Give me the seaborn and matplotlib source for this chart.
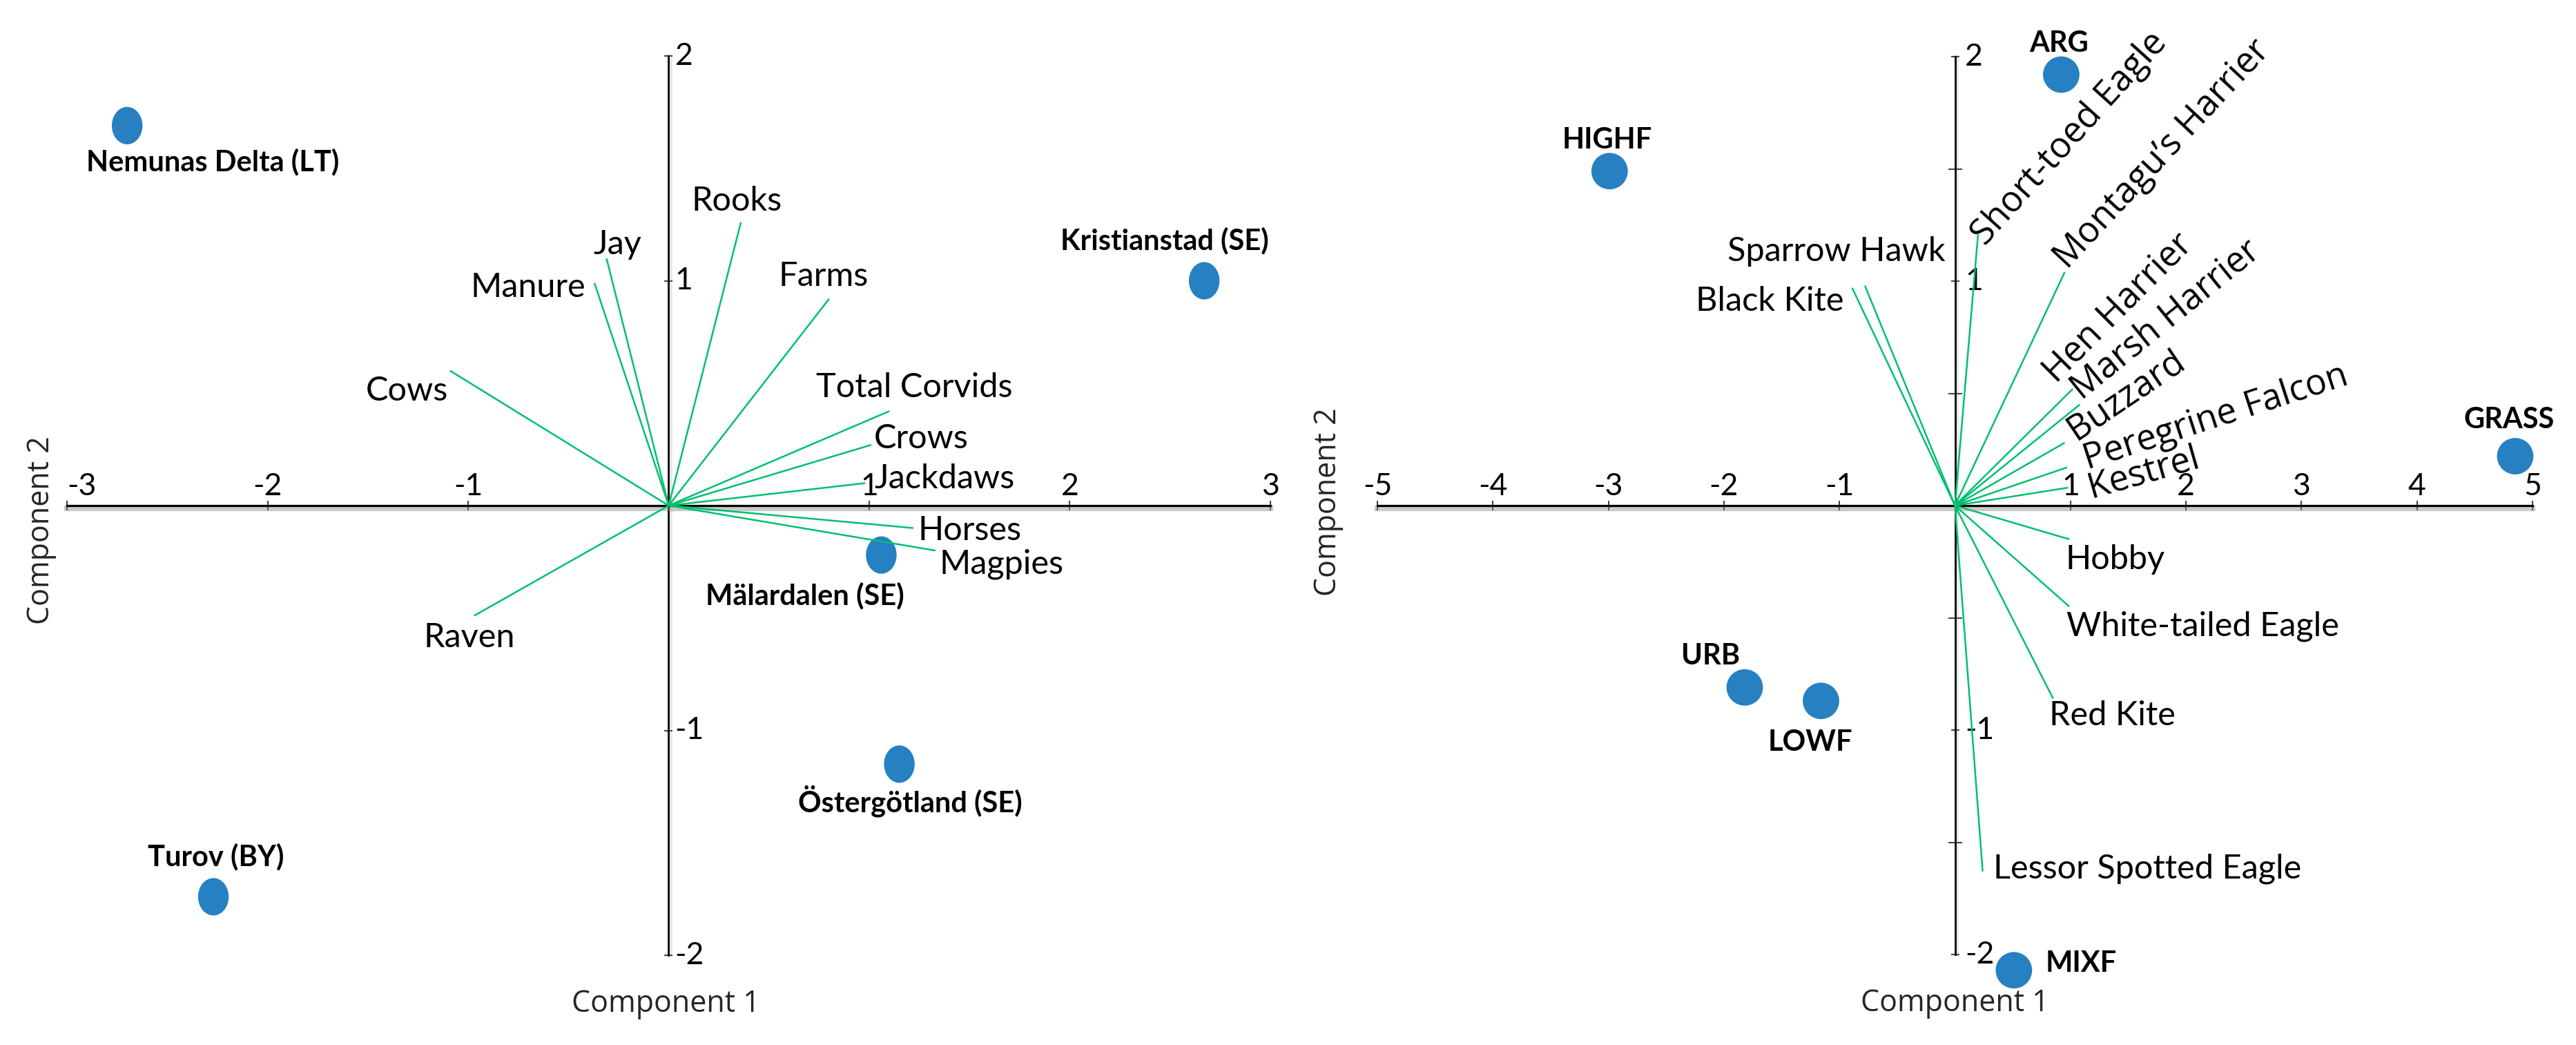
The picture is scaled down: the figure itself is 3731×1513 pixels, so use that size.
import matplotlib
matplotlib.use('Agg')
import matplotlib.pyplot as plt
import matplotlib.patheffects as pe
from matplotlib import font_manager as fm
from matplotlib.path import Path
from matplotlib.transforms import Affine2D
from matplotlib.markers import MarkerStyle
import seaborn as sns
import pandas as pd

# ---------------- data ----------------
corvid_sites = ["Nemunas Delta (LT)", "Kristianstad (SE)", "Mälardalen (SE)",
                "Östergötland (SE)", "Turov (BY)"]
corvid_site_pc1 = [-2.70, 2.67, 1.06, 1.15, -2.27]
corvid_site_pc2 = [1.69, 1.00, -0.22, -1.15, -1.74]

corvid_vars = ["Cows", "Manure", "Jay", "Rooks", "Farms", "Total Corvids",
               "Crows", "Jackdaws", "Horses", "Magpies", "Raven"]
corvid_load_pc1 = [-1.09, -0.37, -0.31, 0.36, 0.80, 1.10, 1.01, 0.98, 1.22, 1.33, -0.97]
corvid_load_pc2 = [0.60, 0.99, 1.10, 1.26, 0.92, 0.42, 0.27, 0.10, -0.10, -0.20, -0.49]

raptor_habitats = ["ARG", "HIGHF", "GRASS", "URB", "LOWF", "MIXF"]
raptor_hab_pc1 = [0.92, -2.99, 4.85, -1.82, -1.16, 0.51]
raptor_hab_pc2 = [1.92, 1.49, 0.22, -0.81, -0.87, -2.07]

raptor_species = ["Sparrow Hawk", "Black Kite", "Short-toed Eagle", "Montagu’s Harrier",
                  "Hen Harrier", "Marsh Harrier", "Buzzard", "Peregrine Falcon", "Kestrel",
                  "Hobby", "White-tailed Eagle", "Red Kite", "Lessor Spotted Eagle"]
raptor_load_pc1 = [-0.78, -0.89, 0.20, 0.95, 1.02, 1.08, 0.95, 0.97, 0.98, 0.99, 0.99, 0.85, 0.24]
raptor_load_pc2 = [0.98, 0.97, 1.21, 1.04, 0.52, 0.45, 0.28, 0.17, 0.08, -0.15, -0.45, -0.86, -1.63]

left_xticks = [-3, -2, -1, 1, 2, 3]
left_yticks = [-2, -1, 1, 2]
right_xticks = [-5, -4, -3, -2, -1, 1, 2, 3, 4, 5]
right_yticks = [-2, -1, 1, 2]
right_yminor = [-1.5, -0.5, 0.5, 1.5]

# ---------------- label layout (pixel offsets, y up) ----------------
corvid_var_layout = {
    "Cows": (-3, -29, 'right'), "Manure": (-13, -6, 'right'), "Jay": (16, 20, 'center'),
    "Rooks": (-6, 31, 'center'), "Farms": (-8, 33, 'center'), "Total Corvids": (36, 34, 'center'),
    "Crows": (4, 9, 'left'), "Jackdaws": (13, 6, 'left'), "Horses": (7, -3, 'left'),
    "Magpies": (6, -20, 'left'), "Raven": (-7, -32, 'center'),
}
corvid_site_layout = {
    "Nemunas Delta (LT)": (124, -53, 'center'), "Kristianstad (SE)": (-57, 58, 'center'),
    "Mälardalen (SE)": (-111, -59, 'center'), "Östergötland (SE)": (16, -53, 'center'),
    "Turov (BY)": (4, 58, 'center'),
}
raptor_flat_layout = {
    "Sparrow Hawk": (116, 50, 'right'), "Black Kite": (-12, -19, 'right'),
    "Hobby": (-6, -29, 'left'), "White-tailed Eagle": (-4, -28, 'left'),
    "Red Kite": (-6, -24, 'left'), "Lessor Spotted Eagle": (15, 4, 'left'),
}
raptor_rot_layout = {
    "Short-toed Eagle": (10, -18, 48), "Montagu’s Harrier": (4, 3, 47),
    "Hen Harrier": (-25, 7, 45), "Marsh Harrier": (2, 6, 39), "Buzzard": (16, 3, 34),
    "Peregrine Falcon": (29, -3, 18), "Kestrel": (33, -15, 16),
}
raptor_hab_layout = {
    "ARG": (-3, 45, 'center'), "HIGHF": (-3, 45, 'center'), "GRASS": (-9, 53, 'center'),
    "URB": (-49, 45, 'center'), "LOWF": (-16, -60, 'center'), "MIXF": (46, 10, 'left'),
}

# ---------------- style ----------------
sns.set_theme(style='white')
names = {f.name for f in fm.fontManager.ttflist}
MAIN = 'Lato' if 'Lato' in names else 'Liberation Sans'
WIDE = 'Open Sans' if 'Open Sans' in names else 'DejaVu Sans'
plt.rcParams['font.family'] = [MAIN, 'DejaVu Sans']
plt.rcParams['axes.unicode_minus'] = False

GREEN = '#00BF6F'
BLUE = '#2680C2'
DPI = 100
PX = 72.0 / DPI
LABEL_FS = 35
POINT_FS = 30
TICK_FS = 32
ROT_FS = 37
AXLAB_FS = 31

fig = plt.figure(figsize=(37.31, 15.13), dpi=DPI)
fig.patch.set_facecolor('white')
axL = fig.add_axes([0.02600, 0.08592, 0.46716, 0.86054])
axR = fig.add_axes([0.53471, 0.08658, 0.44841, 0.85922])


def style_axes(ax, xlim, ylim, xticks, yticks, ypad, yminor=None):
    ax.set_xlim(*xlim)
    ax.set_ylim(*ylim)
    ax.grid(False)
    ax.set_facecolor('white')
    for s in ['left', 'bottom', 'top', 'right']:
        ax.spines[s].set_position(('data', 0))
    ax.spines['top'].set_visible(False)
    ax.spines['right'].set_visible(False)
    ax.spines['bottom'].set_bounds(*xlim)
    ax.spines['left'].set_bounds(*ylim)
    ax.spines['bottom'].set_color('black')
    ax.spines['left'].set_color('black')
    ax.spines['bottom'].set_linewidth(2.3)
    ax.spines['left'].set_linewidth(2.0)
    ax.spines['bottom'].set_path_effects([
        pe.SimpleLineShadow(offset=(0, -3), shadow_color='#8a8a8a', alpha=0.45, linewidth=6),
        pe.Normal()])
    ax.spines['left'].set_path_effects([
        pe.SimpleLineShadow(offset=(2, 0), shadow_color='#8a8a8a', alpha=0.2, linewidth=4),
        pe.Normal()])
    ax.set_xticks(xticks)
    ax.set_yticks(yticks)
    ax.xaxis.set_ticks_position('top')
    ax.yaxis.set_ticks_position('right')
    ax.tick_params(axis='x', which='major', direction='inout', length=10, width=1.5,
                   color='#444444', labelcolor='black', pad=0, labelsize=TICK_FS)
    ax.tick_params(axis='y', which='major', direction='inout', length=9, width=1.5,
                   color='#444444', labelcolor='black', pad=ypad, labelsize=TICK_FS)
    if yminor is not None:
        ax.set_yticks(yminor, minor=True)
        ax.tick_params(axis='y', which='minor', direction='inout', length=14, width=1.5,
                       color='#444444')
    for lab in ax.get_yticklabels():
        lab.set_verticalalignment('center')


def draw_loadings(ax, px, py):
    for x, y in zip(px, py):
        ax.plot([0, x], [0, y], color=GREEN, lw=1.8, zorder=3,
                solid_capstyle='butt', clip_on=False)


def put(ax, text, x, y, dx, dy, ha, va='center', **kw):
    ax.annotate(text, xy=(x, y), xytext=(dx * PX, dy * PX), textcoords='offset points',
                ha=ha, va=va, annotation_clip=False, zorder=5, **kw)


# ---------------- left panel (corvids) ----------------
ell = Affine2D().scale(0.82, 1.0).transform_path(Path.unit_circle())
dfL = pd.DataFrame({'pc1': corvid_site_pc1, 'pc2': corvid_site_pc2, 'site': corvid_sites})
sns.scatterplot(data=dfL, x='pc1', y='pc2', ax=axL, color=BLUE, s=39 ** 2,
                marker=MarkerStyle(ell), linewidth=0, edgecolor='none', zorder=2,
                clip_on=False, legend=False)
draw_loadings(axL, corvid_load_pc1, corvid_load_pc2)
style_axes(axL, (-3, 3), (-2, 2), left_xticks, left_yticks, ypad=2)
first = axL.get_xticklabels()[0]
first.set_horizontalalignment('left')

for name, x, y in zip(corvid_vars, corvid_load_pc1, corvid_load_pc2):
    dx, dy, ha = corvid_var_layout[name]
    put(axL, name, x, y, dx, dy, ha, fontsize=LABEL_FS, color='black')
for name, x, y in zip(corvid_sites, corvid_site_pc1, corvid_site_pc2):
    dx, dy, ha = corvid_site_layout[name]
    put(axL, name, x, y, dx, dy, ha, fontsize=POINT_FS, fontweight='bold', color='black')

axL.set_xlabel('Component 1', fontsize=AXLAB_FS, family=WIDE)
axL.set_ylabel('Component 2', fontsize=AXLAB_FS, family=WIDE)
axL.xaxis.set_label_position('bottom')
axL.xaxis.set_label_coords(0.4974, -0.0545)
axL.xaxis.label.set_verticalalignment('center')
axL.yaxis.set_label_position('left')
axL.yaxis.set_label_coords(-0.0215, 0.4724)
axL.yaxis.label.set_verticalalignment('center')
axL.yaxis.label.set_horizontalalignment('center')

# ---------------- right panel (raptors) ----------------
dfR = pd.DataFrame({'pc1': raptor_hab_pc1, 'pc2': raptor_hab_pc2, 'hab': raptor_habitats})
sns.scatterplot(data=dfR, x='pc1', y='pc2', ax=axR, color=BLUE, s=38 ** 2,
                marker='o', linewidth=0, edgecolor='none', zorder=2,
                clip_on=False, legend=False)
draw_loadings(axR, raptor_load_pc1, raptor_load_pc2)
style_axes(axR, (-5, 5), (-2, 2), right_xticks, right_yticks, ypad=6, yminor=right_yminor)

for name, x, y in zip(raptor_species, raptor_load_pc1, raptor_load_pc2):
    if name in raptor_flat_layout:
        dx, dy, ha = raptor_flat_layout[name]
        put(axR, name, x, y, dx, dy, ha, fontsize=LABEL_FS, color='black')
    else:
        dx, dy, rot = raptor_rot_layout[name]
        put(axR, name, x, y, dx, dy, 'left', va='baseline', rotation=rot,
            rotation_mode='anchor', fontsize=ROT_FS, family=WIDE, color='black')
for name, x, y in zip(raptor_habitats, raptor_hab_pc1, raptor_hab_pc2):
    dx, dy, ha = raptor_hab_layout[name]
    put(axR, name, x, y, dx, dy, ha, fontsize=POINT_FS, fontweight='bold', color='black')

axR.set_xlabel('Component 1', fontsize=AXLAB_FS, family=WIDE)
axR.set_ylabel('Component 2', fontsize=AXLAB_FS, family=WIDE)
axR.xaxis.set_label_position('bottom')
axR.xaxis.set_label_coords(0.4997, -0.0546)
axR.xaxis.label.set_verticalalignment('center')
axR.yaxis.set_label_position('left')
axR.yaxis.set_label_coords(-0.0424, 0.5038)
axR.yaxis.label.set_verticalalignment('center')
axR.yaxis.label.set_horizontalalignment('center')

fig.savefig('out.png', dpi=DPI, facecolor='white')
